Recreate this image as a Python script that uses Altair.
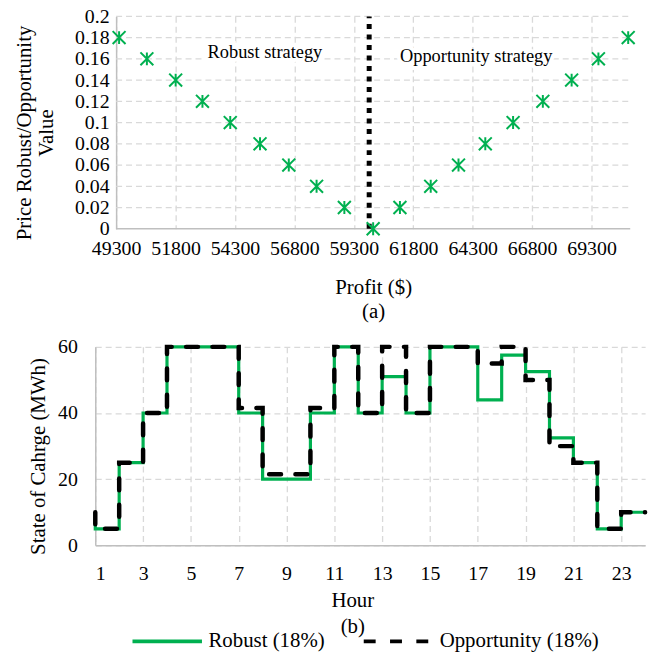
import altair as alt
import pandas as pd

# ---------------- data: panel (a) ----------------
profit = [49425, 50594, 51805, 52932, 54101, 55354, 56564, 57733, 58902, 60113,
          61240, 62535, 63704, 64831, 66000, 67252, 68463, 69590, 70843]
price_value = [0.18, 0.16, 0.14, 0.12, 0.10, 0.08, 0.06, 0.04, 0.02, 0.0,
               0.02, 0.04, 0.06, 0.08, 0.10, 0.12, 0.14, 0.16, 0.18]
profit_ticks = [49300, 51800, 54300, 56800, 59300, 61800, 64300, 66800, 69300]
value_ticks = [0, 0.02, 0.04, 0.06, 0.08, 0.1, 0.12, 0.14, 0.16, 0.18, 0.2]
profit_range = [48423, 70928]
divider_profit = 59946
annot_text = ["Robust strategy", "Opportunity strategy"]
annot_profit = [55560, 64450]
annot_value = [0.1664, 0.1626]

# ---------------- data: panel (b) ----------------
hours = list(range(1, 25))
robust_soc = [10, 5, 25, 40, 60, 60, 60, 40, 20, 20, 40, 60, 40, 51, 40, 60, 60,
              44, 57.5, 52.5, 32.5, 25, 5, 10]
opportunity_soc = [10, 5, 25, 40, 60, 60, 60, 41.5, 21.5, 21.5, 41.5, 60, 40, 60,
                   40, 60, 60, 55, 60, 50, 30, 25, 5, 10]
hour_ticks = list(range(1, 24, 2))
soc_ticks = [0, 20, 40, 60]
series_names = ["Robust (18%)", "Opportunity (18%)"]

GREEN = "#00B050"
FONT = "Liberation Serif"
GRID = "#D9D9D9"
AXISC = "#BFBFBF"
STAR = "M-1,-1L1,1M-1,1L1,-1M0,-1L0,1"
LEGEND_LINE = "M-5,0L5,0"

# ---------------- panel (a) ----------------
df_pts = pd.DataFrame({"profit": profit, "value": price_value})
df_hgrid = pd.DataFrame({"value": value_ticks[1:], "x0": profit_ticks[0], "x1": profit_range[1]})
df_base = pd.DataFrame({"value": [0], "x0": [profit_ticks[0]], "x1": [profit_range[1]]})
df_div = pd.DataFrame({"profit": [divider_profit], "value": [value_ticks[0]], "y1": [value_ticks[-1]]})
df_annot = pd.DataFrame({"profit": annot_profit, "value": annot_value, "label": annot_text})

xs = alt.Scale(domain=profit_range, nice=False, zero=False)
ys = alt.Scale(domain=[0, 0.2], nice=False)
ax_top_x = alt.Axis(
    values=profit_ticks, format="d", grid=True, gridDash=[6, 4], gridColor=GRID, gridWidth=1.3,
    domain=False, ticks=False, labelPadding=10,
    title=["Profit ($)", "(a)"], titleX=280, titleY=59, titleAlign="center",
    titleBaseline="middle", titleLineHeight=24)
ax_top_y = alt.Axis(
    values=value_ticks, format="~g", grid=False, offset=-21, domainColor=AXISC, domainWidth=1.5,
    ticks=False, labelPadding=7,
    title=["Price Robust/Opportunity", "Value"], titleX=-92, titleY=117, titleAngle=-90,
    titleAlign="center", titleBaseline="middle", titleLineHeight=22)


def tx(field):
    return alt.X(field, scale=xs, axis=ax_top_x)


def ty(field):
    return alt.Y(field, scale=ys, axis=ax_top_y)


hgrid = alt.Chart(df_hgrid).mark_rule(color=GRID, strokeWidth=1.3, strokeDash=[6, 4]).encode(
    x=tx("x0:Q"), x2="x1:Q", y=ty("value:Q"))
base = alt.Chart(df_base).mark_rule(color=AXISC, strokeWidth=1.5).encode(
    x=tx("x0:Q"), x2="x1:Q", y=ty("value:Q"))
divider = alt.Chart(df_div).mark_rule(color="black", strokeWidth=5, strokeDash=[5, 5.6]).encode(
    x=tx("profit:Q"), y=ty("value:Q"), y2="y1:Q")
halo = alt.Chart(df_annot).mark_text(font=FONT, fontSize=18.5, color="white", stroke="white",
                                     strokeWidth=8).encode(
    x=tx("profit:Q"), y=ty("value:Q"), text="label:N")
annot = alt.Chart(df_annot).mark_text(font=FONT, fontSize=18.5, color="black").encode(
    x=tx("profit:Q"), y=ty("value:Q"), text="label:N")
pts = alt.Chart(df_pts).mark_point(shape=STAR, size=169, filled=False, stroke=GREEN,
                                   strokeWidth=2, opacity=1).encode(
    x=tx("profit:Q"), y=ty("value:Q"))

top = alt.layer(hgrid, base, divider, halo, annot, pts).properties(width=539, height=214)

# ---------------- panel (b) ----------------
df_soc = pd.DataFrame({
    "hour": hours + hours,
    "soc": robust_soc + opportunity_soc,
    "series": [series_names[0]] * len(hours) + [series_names[1]] * len(hours),
})

hx = alt.Scale(domain=[1, 24], nice=False, zero=False)
hy = alt.Scale(domain=[0, 60], nice=False)
legend = alt.Legend(orient="none", legendX=62, legendY=619, direction="horizontal", title=None,
                    symbolType=LEGEND_LINE, symbolSize=196, symbolStrokeWidth=4,
                    symbolFillColor="transparent",
                    labelFont=FONT, labelFontSize=21, labelColor="black", labelOffset=31,
                    labelLimit=400, columnPadding=30, padding=0)
color = alt.Color("series:N", scale=alt.Scale(domain=series_names, range=[GREEN, "black"]), legend=legend)
dash = alt.StrokeDash("series:N", scale=alt.Scale(domain=series_names, range=[[1, 0], [12, 14.5]]),
                      legend=legend)

bx = alt.X("hour:Q", scale=hx, axis=alt.Axis(
    values=hour_ticks, format="d", grid=True, gridDash=[6, 4], gridColor=GRID, gridWidth=1.3,
    domainColor=AXISC, domainWidth=1.5, ticks=False, labelPadding=18,
    title=["Hour", "(b)"], titleX=259, titleY=56, titleAlign="center", titleBaseline="middle",
    titleLineHeight=26))
by = alt.Y("soc:Q", scale=hy, axis=alt.Axis(
    values=soc_ticks, format="d", grid=True, gridDash=[6, 4], gridColor=GRID, gridWidth=1.3,
    domainColor=AXISC, domainWidth=1.5, ticks=False, labelPadding=18,
    title="State of Cahrge (MWh)", titleX=-57, titleY=110, titleAngle=-90, titleAlign="center",
    titleBaseline="middle"))

line_r = alt.Chart(df_soc).transform_filter(alt.datum.series == series_names[0]).mark_line(
    interpolate="step-before", strokeWidth=3.2).encode(x=bx, y=by, color=color, strokeDash=dash)
line_o = alt.Chart(df_soc).transform_filter(alt.datum.series == series_names[1]).mark_line(
    interpolate="step-before", strokeWidth=4.5, strokeCap="round").encode(x=bx, y=by, color=color, strokeDash=dash)

bottom = alt.layer(line_r, line_o).properties(width=554, height=200)

chart = alt.vconcat(top, bottom, spacing=16).properties(
    padding={"left": 13, "top": 4, "right": 5, "bottom": 5},
    background="white",
).configure_view(stroke=None).configure_axis(
    labelFont=FONT, labelFontSize=20, labelColor="black",
    titleFont=FONT, titleFontSize=21, titleColor="black", titleFontWeight="normal",
)

chart.save("out.html", embed_options={"renderer": "svg", "actions": False})
